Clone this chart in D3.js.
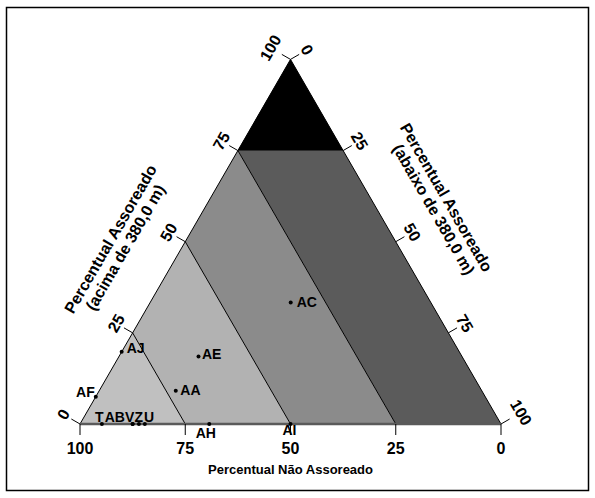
<!DOCTYPE html>
<html>
<head>
<meta charset="utf-8">
<script src="https://cdn.jsdelivr.net/npm/d3@7"></script>
<style>
  body { margin: 0; background: white; }
  text { font-family: "Liberation Sans", Arial, sans-serif; font-weight: bold; fill: black; }
</style>
</head>
<body>
<svg id="main-svg"></svg>
<script>
const svg = d3.select("#main-svg");

// FIXED
const CANVAS_WIDTH = 595
const CANVAS_HEIGHT = 498
const LEFT_X = 80
const RIGHT_X = 501
const BASE_Y = 424
const TICK_LEN = 10

// COMPUTED
const SIDE = RIGHT_X - LEFT_X
const TRI_HEIGHT = SIDE * Math.sqrt(3) / 2

// DATA
const pointLabels = ["AC", "AE", "AA", "AJ", "AF", "T", "AB", "V", "Z", "U", "AH", "AI"];
const acima = [33.3, 18.5, 9.1, 19.8, 7.5, 0, 0, 0, 0, 0, 0, 0];          // % assoreado acima de 380,0 m
const abaixo = [33.4, 18.9, 18.2, 0, 0, 5.2, 12.5, 12.5, 14.0, 15.4, 30.7, 50]; // % assoreado abaixo de 380,0 m
const naoAssoreado = [33.3, 62.6, 72.7, 80.2, 92.5, 94.8, 87.5, 87.5, 86.0, 84.6, 69.3, 50];
const tickValues = [0, 25, 50, 75, 100];
const bandLimits = [[75, 100], [50, 75], [25, 50], [0, 25]]; // bands of naoAssoreado
const bandColors = ["#c0c0c0", "#b2b2b2", "#8b8b8b", "#5b5b5b"];
const topLimit = 75; // acima >= 75 is black

// label placement next to each point: dx, dy, anchor
const labelOffsets = {
  AC: [6, 4.5, "start"], AE: [3.5, 2.5, "start"], AA: [4.5, 4.5, "start"],
  AJ: [5, 1, "start"], AF: [-1, 0, "end"], T: [-7, -2, "start"],
  AB: [-28, -2, "start"], V: [-7.6, -2, "start"], Z: [-4.5, -2, "start"],
  U: [-0.8, -2, "start"], AH: [-3.5, 14, "middle"], AI: [-1, 11, "middle"]
};

svg.attr("width", CANVAS_WIDTH).attr("height", CANVAS_HEIGHT);

const xScale = d3.scaleLinear().domain([0, 100]).range([LEFT_X, RIGHT_X]);
const yScale = d3.scaleLinear().domain([0, 100]).range([BASE_Y, BASE_Y - TRI_HEIGHT]);

// (acima, abaixo) -> pixel
const project = (a, c) => [xScale(c + a / 2), yScale(a)];

// outer frame
svg.append("rect")
  .attr("x", 6.5).attr("y", 7.5)
  .attr("width", 582).attr("height", 483)
  .attr("fill", "white").attr("stroke", "black").attr("stroke-width", 1.5);

const line = d3.line();

// bands of naoAssoreado
bandLimits.forEach(([lo, hi], i) => {
  const pts = [
    project(100 - hi, 0), project(100 - lo, 0),
    project(0, 100 - lo), project(0, 100 - hi)
  ];
  svg.append("path")
    .attr("d", line(pts) + "Z")
    .attr("fill", bandColors[i]);
});

// black top
svg.append("path")
  .attr("d", line([project(100, 0), project(topLimit, 0), project(topLimit, 100 - topLimit)]) + "Z")
  .attr("fill", "black");

// band boundaries
[75, 50, 25].forEach(n => {
  svg.append("path")
    .attr("d", line([project(100 - n, 0), project(0, 100 - n)]))
    .attr("stroke", "black").attr("stroke-width", 1).attr("fill", "none");
});

// triangle edges
svg.append("path")
  .attr("d", line([project(0, 0), project(100, 0), project(0, 100)]))
  .attr("stroke", "black").attr("stroke-width", 1).attr("fill", "none");
svg.append("path")
  .attr("d", line([project(0, 0), project(0, 100)]))
  .attr("stroke", "#5a5a5a").attr("stroke-width", 2.5).attr("fill", "none");

// AXES
const ticksGroup = svg.append("g").attr("stroke", "black").attr("stroke-width", 1);
const LEFT_N = [-Math.sqrt(3) / 2, -0.5];
const RIGHT_N = [Math.sqrt(3) / 2, -0.5];

// bottom axis: nao assoreado (100 at left)
tickValues.forEach(v => {
  const [x, y] = project(0, 100 - v);
  ticksGroup.append("line").attr("x1", x).attr("y1", y).attr("x2", x).attr("y2", y + TICK_LEN + 1);
  svg.append("text")
    .attr("x", x).attr("y", y + 30)
    .attr("text-anchor", "middle")
    .style("font-size", "16px")
    .text(v);
});

// left axis: acima (0 at bottom)
tickValues.forEach(v => {
  const [x, y] = project(v, 0);
  ticksGroup.append("line").attr("x1", x).attr("y1", y)
    .attr("x2", x + LEFT_N[0] * TICK_LEN).attr("y2", y + LEFT_N[1] * TICK_LEN);
  const d = v === 100 ? 23 : 19;
  const lx = x + LEFT_N[0] * d, ly = y + LEFT_N[1] * d;
  svg.append("text")
    .attr("transform", `translate(${lx},${ly}) rotate(-60)`)
    .attr("text-anchor", "middle")
    .attr("dominant-baseline", "central")
    .style("font-size", "16px")
    .text(v);
});

// right axis: abaixo (0 at top)
tickValues.forEach(v => {
  const [x, y] = project(100 - v, v);
  ticksGroup.append("line").attr("x1", x).attr("y1", y)
    .attr("x2", x + RIGHT_N[0] * TICK_LEN).attr("y2", y + RIGHT_N[1] * TICK_LEN);
  const d = v === 100 ? 23 : 19;
  const lx = x + RIGHT_N[0] * d, ly = y + RIGHT_N[1] * d;
  svg.append("text")
    .attr("transform", `translate(${lx},${ly}) rotate(60)`)
    .attr("text-anchor", "middle")
    .attr("dominant-baseline", "central")
    .style("font-size", "16px")
    .text(v);
});

// axis titles
const sideTitle = (edgeMid, normal, along, rot, lines) => {
  lines.forEach((t, i) => {
    const dist = 66 - i * 17;
    const dir = [Math.cos(rot * Math.PI / 180), Math.sin(rot * Math.PI / 180)];
    const x = edgeMid[0] + normal[0] * dist + dir[0] * along[i];
    const y = edgeMid[1] + normal[1] * dist + dir[1] * along[i];
    svg.append("text")
      .attr("transform", `translate(${x},${y}) rotate(${rot})`)
      .attr("text-anchor", "middle")
      .attr("dominant-baseline", "central")
      .style("font-size", "16px")
      .text(t);
  });
};
sideTitle(project(50, 0), LEFT_N, [-35, -35], -60, ["Percentual Assoreado", "(acima de 380,0 m)"]);
sideTitle(project(50, 50), RIGHT_N, [-13, -9], 60, ["Percentual Assoreado", "(abaixo de 380,0 m)"]);

svg.append("text")
  .attr("x", xScale(50)).attr("y", 474)
  .attr("text-anchor", "middle")
  .style("font-size", "13px")
  .text("Percentual Não Assoreado");

// POINTS
const points = pointLabels.map((label, i) => ({
  label, a: acima[i], c: abaixo[i], n: naoAssoreado[i]
}));

const pointGroup = svg.append("g");
pointGroup.selectAll("circle")
  .data(points)
  .enter()
  .append("circle")
  .attr("cx", d => project(d.a, d.c)[0])
  .attr("cy", d => project(d.a, d.c)[1])
  .attr("r", 2)
  .attr("fill", "black");

pointGroup.selectAll("text")
  .data(points)
  .enter()
  .append("text")
  .attr("x", d => project(d.a, d.c)[0] + labelOffsets[d.label][0])
  .attr("y", d => project(d.a, d.c)[1] + labelOffsets[d.label][1])
  .attr("text-anchor", d => labelOffsets[d.label][2])
  .style("font-size", "14px")
  .text(d => d.label);
</script>
</body>
</html>
